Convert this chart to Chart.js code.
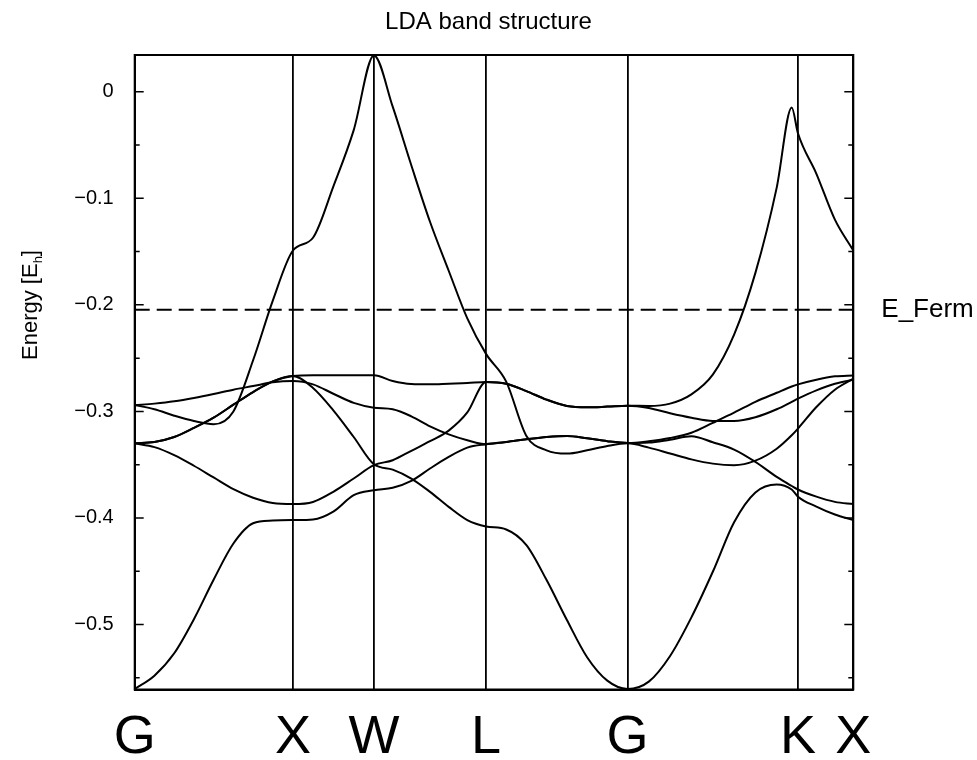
<!DOCTYPE html>
<html>
<head>
<meta charset="utf-8">
<title>LDA band structure</title>
<script src="https://cdn.jsdelivr.net/npm/chart.js@4.4.1/dist/chart.umd.min.js"></script>
<style>
  html, body { margin: 0; padding: 0; background: #fff; }
  #wrap { width: 977px; height: 760px; }
</style>
</head>
<body>
<div id="wrap"><canvas id="bands" width="977" height="760"></canvas></div>
<script>
// high symmetry points along the k-path
const kLabels = ['G', 'X', 'W', 'L', 'G', 'K', 'X'];
const kTicks = [0, 0.988, 1.494, 2.194, 3.078, 4.142, 4.4876];

// k values where the bands were sampled
const kGrid = [
    0, 0.123, 0.2467, 0.3697, 0.4927, 0.6164, 0.7394, 0.8624, 0.988,
    1.1135, 1.2403, 1.3677, 1.494,
    1.6112, 1.7274, 1.8441, 1.9609, 2.0771, 2.194,
    2.32, 2.4461, 2.5723, 2.6991, 2.8252, 2.9514, 3.078,
    3.2105, 3.3435, 3.4766, 3.6102, 3.7432, 3.8762, 4.0093, 4.103, 4.142,
    4.2572, 4.3727, 4.4876
];

// band energies [Eh], one value per kGrid point
const band1 = [
    -0.5605, -0.548, -0.527, -0.495, -0.458, -0.424, -0.405, -0.4025, -0.402,
    -0.4014, -0.394, -0.3786, -0.374,
    -0.3717, -0.3652, -0.3536, -0.3427, -0.334, -0.3308,
    -0.3287, -0.3262, -0.324, -0.323, -0.3252, -0.328, -0.3296,
    -0.3293, -0.3265, -0.3233, -0.329, -0.3358, -0.3474, -0.3615, -0.370, -0.3733,
    -0.380, -0.3849, -0.387
];
const band2 = [
    -0.330, -0.3335, -0.341, -0.351, -0.362, -0.373, -0.381, -0.386, -0.387,
    -0.385, -0.3755, -0.363, -0.3505,
    -0.3458, -0.337, -0.328, -0.318, -0.301, -0.2724,
    -0.274, -0.2809, -0.289, -0.2949, -0.2962, -0.2955, -0.2946,
    -0.2968, -0.3018, -0.306, -0.309, -0.309, -0.3055, -0.298, -0.291, -0.288,
    -0.2802, -0.274, -0.2702
];
const band3 = [
    -0.330, -0.3287, -0.324, -0.3155, -0.3059, -0.2937, -0.2818, -0.2718, -0.2668,
    -0.266, -0.266, -0.266, -0.266,
    -0.2715, -0.2743, -0.2746, -0.274, -0.2734, -0.2724,
    -0.274, -0.2809, -0.289, -0.2949, -0.2962, -0.2955, -0.2946,
    -0.2949, -0.2927, -0.284, -0.2655, -0.228, -0.170, -0.090, -0.0147, -0.039,
    -0.077, -0.120, -0.149
];
const band4 = [
    -0.330, -0.3287, -0.324, -0.3155, -0.3059, -0.2937, -0.2818, -0.2718, -0.2668,
    -0.278, -0.299, -0.324, -0.3496,
    -0.3546, -0.363, -0.3755, -0.3896, -0.402, -0.408,
    -0.4108, -0.4255, -0.4583, -0.4958, -0.5307, -0.5527, -0.5605,
    -0.5536, -0.5295, -0.4933, -0.4505, -0.404, -0.376, -0.3685, -0.3733, -0.380,
    -0.3893, -0.3968, -0.402
];
const band5 = [
    -0.2943, -0.2927, -0.2905, -0.2874, -0.2837, -0.2796, -0.2762, -0.2727, -0.2715,
    -0.2746, -0.2834, -0.292, -0.2965,
    -0.298, -0.3046, -0.314, -0.3215, -0.327, -0.3308,
    -0.3287, -0.3262, -0.324, -0.323, -0.3252, -0.328, -0.3296,
    -0.328, -0.325, -0.320, -0.3107, -0.3012, -0.291, -0.2825, -0.2766, -0.2746,
    -0.2702, -0.2671, -0.2662
];
const band6 = [
    -0.294, -0.298, -0.304, -0.309, -0.312, -0.300, -0.252, -0.196, -0.149,
    -0.137, -0.089, -0.036, 0.034,
    -0.014, -0.069, -0.122, -0.168, -0.2127, -0.246,
    -0.272, -0.323, -0.3365, -0.3396, -0.3365, -0.3324, -0.330,
    -0.334, -0.3395, -0.345, -0.349, -0.3505, -0.3462, -0.335, -0.3224, -0.3161,
    -0.2959, -0.2796, -0.2693
];
const bands = [band1, band2, band3, band4, band5, band6];

const fermiEnergy = -0.2045;
const yMin = -0.561;
const yMax = 0.0345;

const fontFamily = '"Liberation Sans", Arial, Helvetica, sans-serif';

// build the datasets from the arrays above
const datasets = bands.map(b => ({
    data: kGrid.map((k, i) => ({ x: k, y: b[i] })),
    borderColor: '#000',
    borderWidth: 2,
    pointRadius: 0,
    fill: false,
    cubicInterpolationMode: 'monotone'
}));
datasets.push({
    data: [{ x: kTicks[0], y: fermiEnergy }, { x: kTicks[kTicks.length - 1], y: fermiEnergy }],
    borderColor: '#000',
    borderWidth: 2,
    borderDash: [15, 7],
    pointRadius: 0,
    fill: false
});

// frame, inward ticks, title and the extra labels
const decorations = {
    id: 'decorations',
    afterDraw(chart) {
        const ctx = chart.ctx;
        const area = chart.chartArea;
        const x = chart.scales.x;
        const y = chart.scales.y;

        ctx.save();
        ctx.strokeStyle = '#000';
        ctx.lineWidth = 2;
        ctx.strokeRect(area.left, area.top, area.right - area.left, area.bottom - area.top);

        // major ticks on both sides, minor ticks halfway
        ctx.lineWidth = 1.5;
        ctx.beginPath();
        y.ticks.forEach(t => {
            const py = y.getPixelForValue(t.value);
            ctx.moveTo(area.left, py); ctx.lineTo(area.left + 9, py);
            ctx.moveTo(area.right, py); ctx.lineTo(area.right - 9, py);
            const pm = y.getPixelForValue(t.value - 0.05);
            if (pm < area.bottom) {
                ctx.moveTo(area.left, pm); ctx.lineTo(area.left + 5, pm);
                ctx.moveTo(area.right, pm); ctx.lineTo(area.right - 5, pm);
            }
        });
        ctx.stroke();

        ctx.fillStyle = '#000';
        // title
        ctx.font = '24px ' + fontFamily;
        ctx.textAlign = 'center';
        ctx.textBaseline = 'middle';
        ctx.fillText('LDA band structure', chart.width / 2, 22);

        // k-point labels
        ctx.font = '54px ' + fontFamily;
        ctx.textBaseline = 'alphabetic';
        kTicks.forEach((k, i) => {
            ctx.fillText(kLabels[i], x.getPixelForValue(k), 753);
        });

        // Fermi label
        ctx.font = '26px ' + fontFamily;
        ctx.textAlign = 'left';
        ctx.textBaseline = 'middle';
        ctx.fillText('E_Ferm', area.right + 28, y.getPixelForValue(fermiEnergy));

        // y axis title with subscript
        ctx.translate(31, 305);
        ctx.rotate(-Math.PI / 2);
        ctx.font = '22px ' + fontFamily;
        const a = 'Energy [E', c = ']';
        const wa = ctx.measureText(a).width;
        const wc = ctx.measureText(c).width;
        ctx.font = '13px ' + fontFamily;
        const wb = ctx.measureText('h').width;
        const x0 = -(wa + wb + wc) / 2;
        ctx.font = '22px ' + fontFamily;
        ctx.fillText(a, x0, 0);
        ctx.font = '13px ' + fontFamily;
        ctx.fillText('h', x0 + wa, 7);
        ctx.font = '22px ' + fontFamily;
        ctx.fillText(c, x0 + wa + wb, 0);
        ctx.restore();
    }
};

new Chart(document.getElementById('bands'), {
    type: 'line',
    data: { datasets: datasets },
    options: {
        responsive: false,
        animation: false,
        events: [],
        layout: { padding: { left: 0, top: 55, right: 123.7, bottom: 0 } },
        plugins: { legend: { display: false }, tooltip: { enabled: false }, title: { display: false } },
        scales: {
            x: {
                type: 'linear',
                min: kTicks[0],
                max: kTicks[kTicks.length - 1],
                afterBuildTicks: scale => { scale.ticks = kTicks.map(v => ({ value: v })); },
                afterFit: scale => { scale.height = 70.5; },
                ticks: { display: false },
                grid: { color: '#000', lineWidth: 1.8, drawTicks: false },
                border: { display: true, color: '#000', width: 2 }
            },
            y: {
                type: 'linear',
                min: yMin,
                max: yMax,
                afterFit: scale => { scale.width = 134.7; },
                ticks: {
                    stepSize: 0.1,
                    includeBounds: false,
                    padding: 13,
                    color: '#000',
                    font: { family: fontFamily, size: 20 },
                    callback: value => {
                        const v = Math.round(value * 10) / 10;
                        return v === 0 ? '0' : '\u2212' + Math.abs(v).toFixed(1);
                    }
                },
                grid: { display: false },
                border: { display: true, color: '#000', width: 2 }
            }
        }
    },
    plugins: [decorations]
});
</script>
</body>
</html>
